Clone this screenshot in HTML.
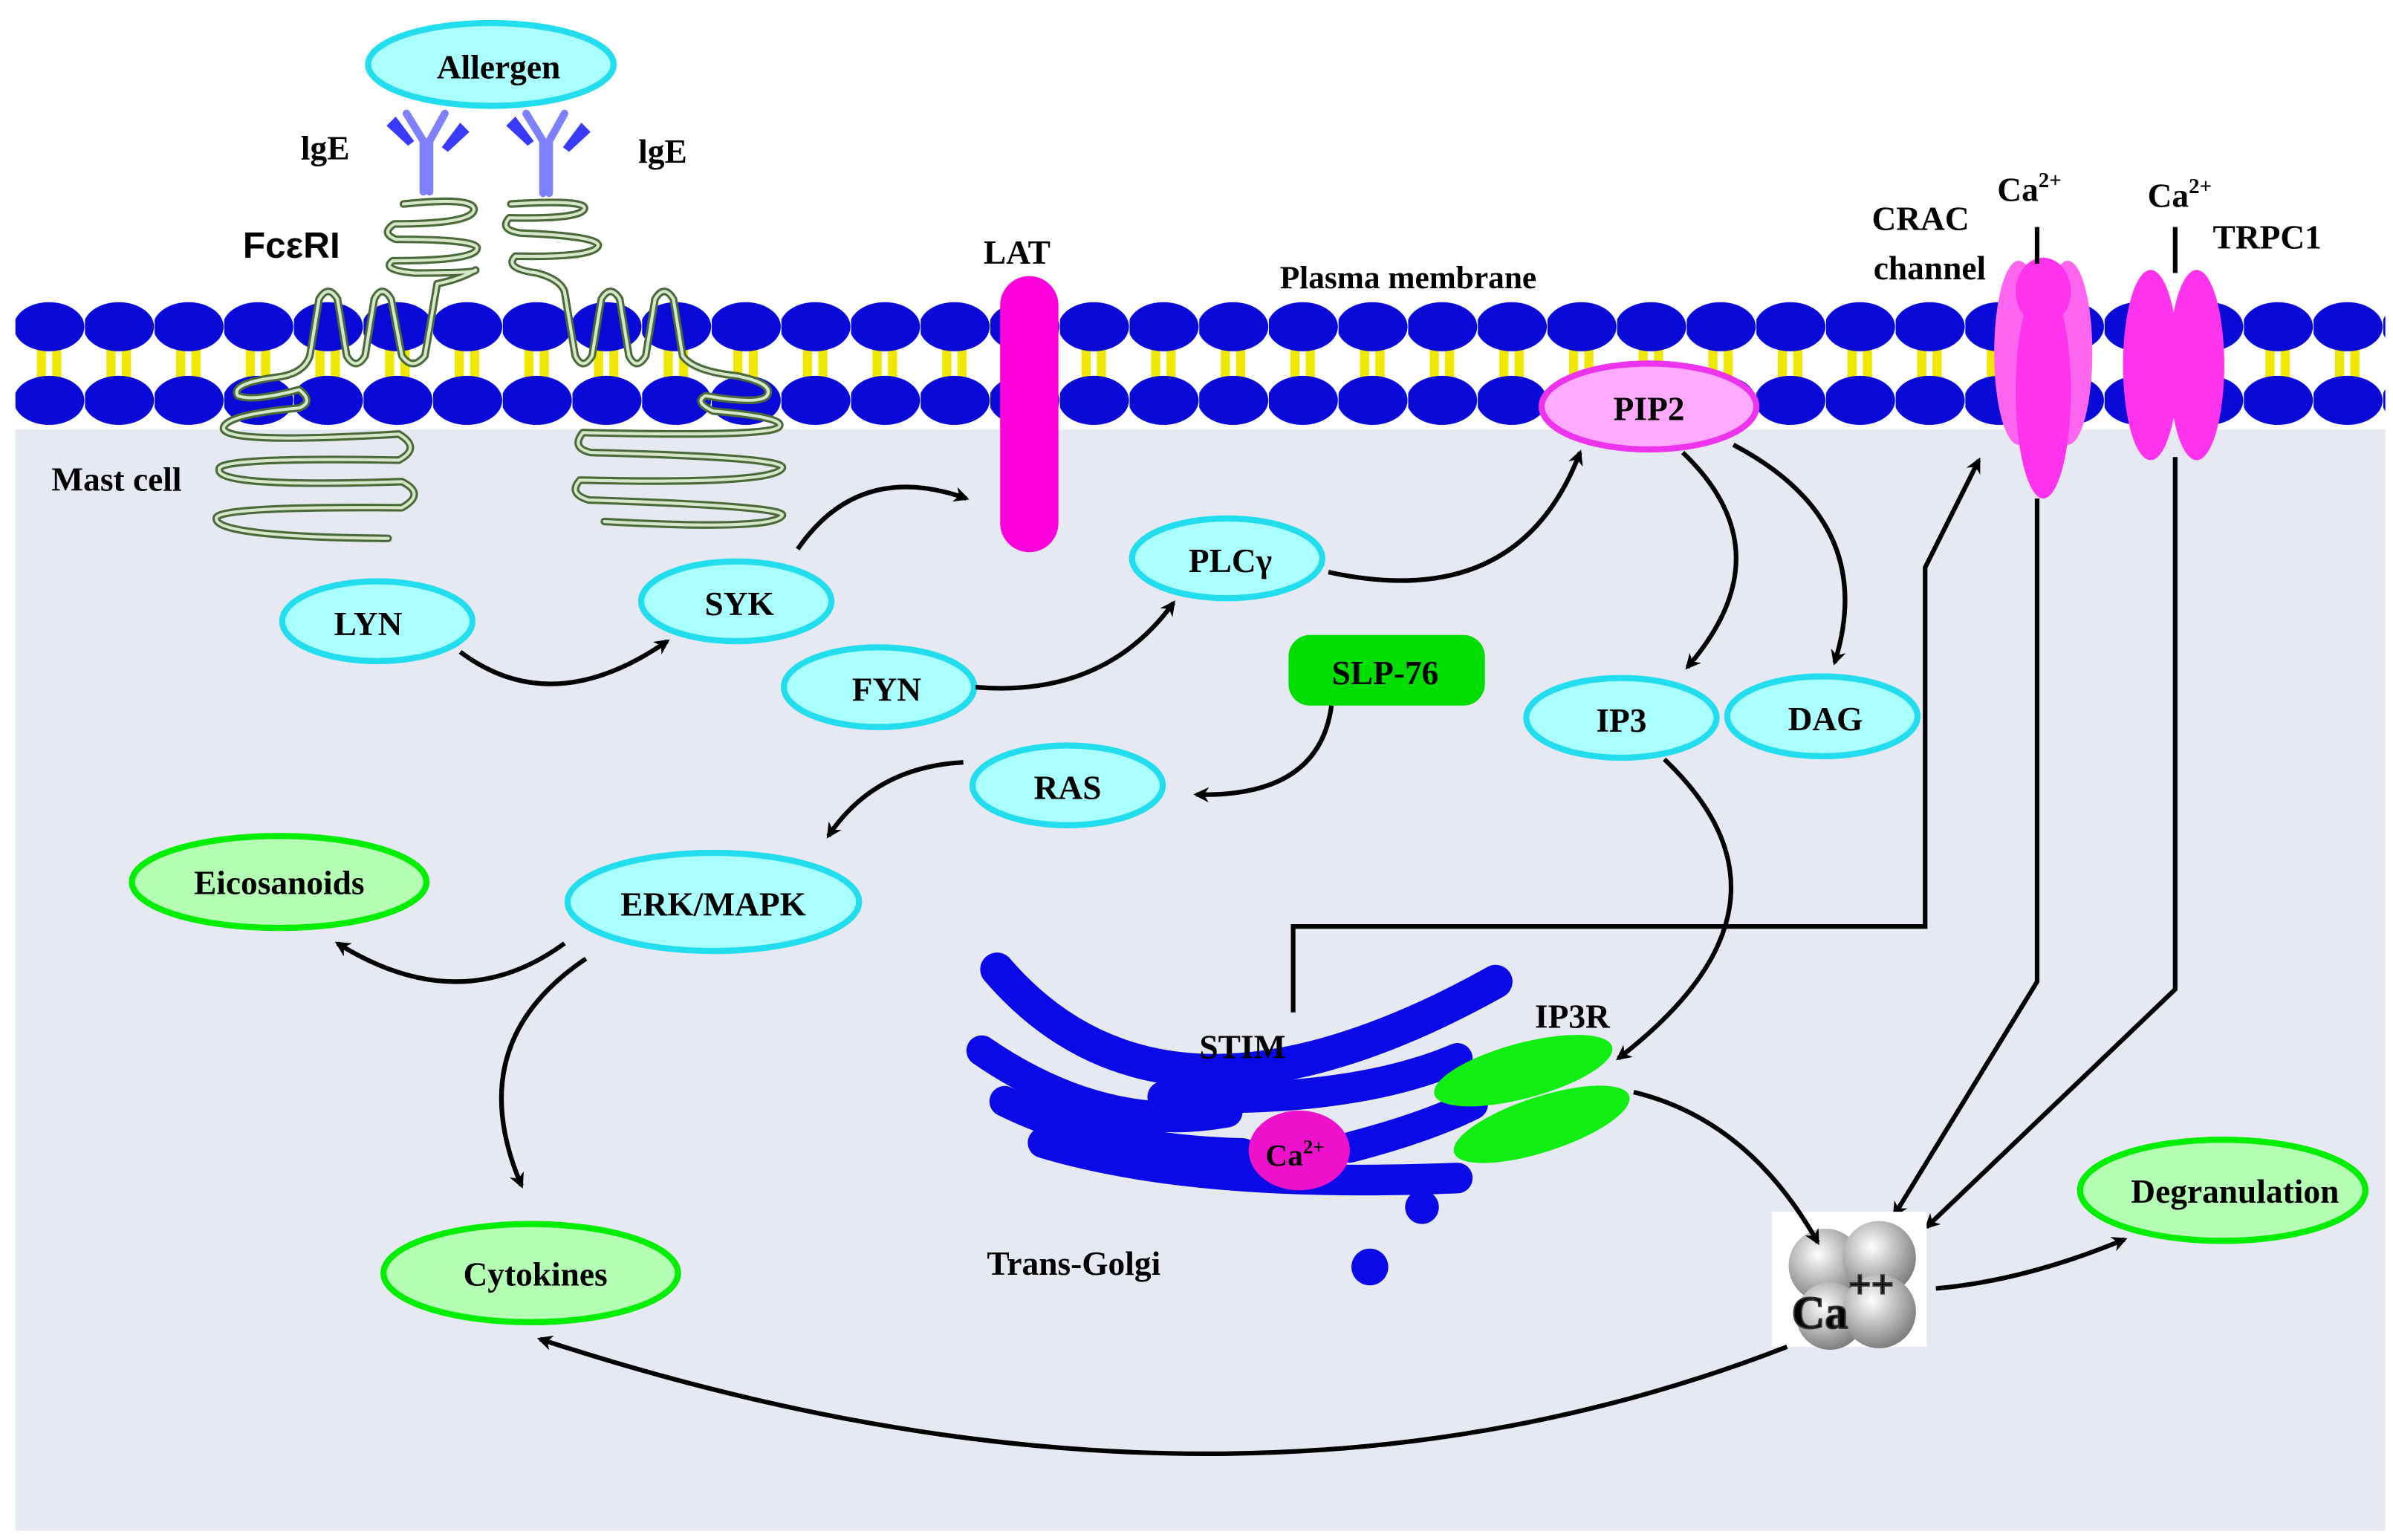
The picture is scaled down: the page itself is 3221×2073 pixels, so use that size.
<!DOCTYPE html>
<html><head><meta charset="utf-8"><style>
html,body{margin:0;padding:0;background:#fff}
svg{display:block}
text{font-family:"Liberation Serif",serif;font-weight:bold;fill:#000}
</style></head><body>
<svg width="3221" height="2073" viewBox="0 0 1560 1004" xmlns="http://www.w3.org/2000/svg">
<defs>
<marker id="ah" markerWidth="10" markerHeight="10" refX="8" refY="5" orient="auto" markerUnits="userSpaceOnUse" viewBox="0 0 10 10">
<path d="M0,0 L10,5 L0,10 L3,5 Z" fill="#000"/></marker>
<radialGradient id="ball" cx="0.4" cy="0.35" r="0.7"><stop offset="0" stop-color="#fff"/><stop offset="1" stop-color="#777"/></radialGradient>
<pattern id="lip" x="10" y="195" width="45.4" height="90" patternUnits="userSpaceOnUse">
<rect x="14" y="25" width="6" height="30" fill="#f0e800"/><rect x="24" y="25" width="6" height="30" fill="#f0e800"/>
<ellipse cx="22" cy="18" rx="23" ry="16" fill="#0a0ad8"/>
<ellipse cx="22" cy="66" rx="23" ry="16" fill="#0a0ad8"/>
</pattern>
</defs>
<rect x="10" y="195" width="1545" height="803" fill="#e6e9f2"/>
<rect x="10" y="195" width="1545" height="85" fill="#fff"/>
<rect x="10" y="195" width="1545" height="85" fill="url(#lip)"/>

<!-- Allergen -->
<ellipse cx="320" cy="42" rx="80" ry="27" fill="#aaffff" stroke="#22ddee" stroke-width="4"/>
<text x="325" y="51" font-size="22" text-anchor="middle">Allergen</text>
<!-- IgE -->
<g stroke="#7f80ff" stroke-width="5" fill="none" stroke-linecap="round">
<path d="M265,74 L276,92 L276,125 M290,74 L280,92 L280,125"/>
<path d="M343,74 L354,92 L354,126 M368,74 L358,92 L358,126"/>
</g>
<g fill="#3a3aff"><path d="M252,82 l6,-6 l12,16 l-4,3 z"/><path d="M306,86 l-6,-6 l-12,16 l4,3 z"/><path d="M330,82 l6,-6 l12,16 l-4,3 z"/><path d="M385,86 l-6,-6 l-12,16 l4,3 z"/></g>
<text x="212" y="104" font-size="22" text-anchor="middle">lgE</text>
<text x="432" y="106" font-size="22" text-anchor="middle">lgE</text>
<text x="190" y="168" font-size="24" text-anchor="middle" style="font-family:'Liberation Sans',sans-serif">FcεRI</text>

<!-- FcERI ribbons -->
<g fill="none" stroke-linecap="round" stroke-linejoin="round">
<g stroke="#4a6a3a" stroke-width="5">
<path id="rl" d="M263,133 Q310,128 309,137 Q307,146 257,146 Q248,152 258,156 Q312,156 311,162 Q310,170 256,170 Q248,176 270,178 Q312,178 310,176 Q300,182 285,185 L277,232 Q269,242 262,232 L255,195 Q249,185 244,195 L238,232 Q232,242 226,232 L220,195 Q214,185 208,195 L202,232 Q198,244 180,246 Q150,250 155,258 Q165,262 195,254 Q205,262 195,266 Q150,270 146,278 Q140,290 260,283 Q275,292 260,300 Q140,298 143,306 Q140,318 262,314 Q278,322 262,331 Q140,330 141,338 Q140,350 253,351"/>
<path id="rr" d="M333,133 Q382,130 381,136 Q379,143 332,142 Q325,150 340,152 Q390,154 390,160 Q388,168 336,167 Q328,175 350,178 Q365,182 368,190 L375,232 Q380,242 386,232 L392,195 Q398,185 404,195 L410,232 Q415,242 421,232 L427,195 Q433,185 439,195 L445,232 Q452,242 480,245 Q505,250 500,258 Q495,264 460,258 Q452,262 465,268 Q512,272 508,278 Q505,285 380,282 Q372,292 385,295 Q512,298 510,305 Q505,316 378,313 Q370,322 384,326 Q512,330 510,336 Q505,346 394,340"/>
</g>
<g stroke="#d6e6c8" stroke-width="2">
<use href="#rl"/><use href="#rr"/>
</g>
</g>

<text x="76" y="320" font-size="22" text-anchor="middle">Mast cell</text>
<!-- LAT -->
<rect x="652" y="180" width="38" height="180" rx="19" fill="#ff00dd"/>
<text x="663" y="172" font-size="22" text-anchor="middle">LAT</text>
<text x="918" y="188" font-size="21" text-anchor="middle">Plasma membrane</text>

<!-- PIP2 -->
<ellipse cx="1075" cy="265" rx="70" ry="28" fill="#ffaaff" stroke="#ee33ee" stroke-width="4"/>
<text x="1075" y="274" font-size="22" text-anchor="middle">PIP2</text>

<!-- CRAC/TRPC -->
<text x="1252" y="150" font-size="22" text-anchor="middle">CRAC</text>
<text x="1258" y="182" font-size="22" text-anchor="middle">channel</text>
<text x="1302" y="131" font-size="22">Ca<tspan font-size="14" dy="-9">2+</tspan></text>
<text x="1400" y="135" font-size="22">Ca<tspan font-size="14" dy="-9">2+</tspan></text>
<text x="1478" y="162" font-size="22" text-anchor="middle">TRPC1</text>
<g fill="#ff33ee">
<ellipse cx="1316" cy="230" rx="16" ry="60" fill="#ff66f0"/>
<ellipse cx="1348" cy="230" rx="16" ry="60" fill="#ff66f0"/>
<ellipse cx="1332" cy="255" rx="18" ry="70"/>
<ellipse cx="1332" cy="190" rx="18" ry="22"/>
<ellipse cx="1402" cy="238" rx="18" ry="62"/>
<ellipse cx="1432" cy="238" rx="18" ry="62"/>
</g>
<g stroke="#000" stroke-width="3" fill="none">
<path d="M1328,148 V172 M1328,325 V640 L1235,792" marker-end="url(#ah)"/>
<path d="M1418,148 V178 M1418,298 V645 L1256,800" marker-end="url(#ah)"/>
<path d="M843,660 V604 H1255 V370 L1290,300" marker-end="url(#ah)"/>
</g>

<!-- nodes -->
<g fill="#aaffff" stroke="#22ddee" stroke-width="4">
<ellipse cx="246" cy="405" rx="62" ry="26"/>
<ellipse cx="480" cy="392" rx="62" ry="26"/>
<ellipse cx="573" cy="448" rx="62" ry="26"/>
<ellipse cx="800" cy="364" rx="62" ry="26"/>
<ellipse cx="696" cy="512" rx="62" ry="26"/>
<ellipse cx="1057" cy="468" rx="62" ry="26"/>
<ellipse cx="1188" cy="467" rx="62" ry="26"/>
<ellipse cx="465" cy="588" rx="95" ry="32"/>
</g>
<g fill="#b5ffb5" stroke="#00ee00" stroke-width="4">
<ellipse cx="182" cy="575" rx="96" ry="30"/>
<ellipse cx="346" cy="830" rx="96" ry="32"/>
<ellipse cx="1449" cy="776" rx="93" ry="33"/>
</g>
<rect x="840" y="414" width="128" height="46" rx="14" fill="#00dd00"/>
<g font-size="22" text-anchor="middle">
<text x="240" y="414">LYN</text>
<text x="482" y="401">SYK</text>
<text x="578" y="457">FYN</text>
<text x="802" y="373">PLCγ</text>
<text x="903" y="446">SLP-76</text>
<text x="696" y="521">RAS</text>
<text x="1057" y="477">IP3</text>
<text x="1190" y="476">DAG</text>
<text x="465" y="597">ERK/MAPK</text>
<text x="182" y="583">Eicosanoids</text>
<text x="349" y="838">Cytokines</text>
<text x="1457" y="784">Degranulation</text>
</g>

<!-- Golgi -->
<g fill="none" stroke="#0a0ae8" stroke-linecap="round">
<path d="M650,632 Q760,760 975,640" stroke-width="22"/>
<path d="M640,685 Q720,740 800,725" stroke-width="20"/>
<path d="M758,715 Q880,720 950,690" stroke-width="20"/>
<path d="M655,718 Q720,750 810,752" stroke-width="20"/>
<path d="M880,748 Q930,735 960,720" stroke-width="20"/>
<path d="M680,745 Q780,775 950,768" stroke-width="20"/>
</g>
<circle cx="927" cy="787" r="11" fill="#0a0ae8"/>
<circle cx="893" cy="826" r="12" fill="#0a0ae8"/>
<ellipse cx="847" cy="750" rx="33" ry="26" fill="#ee11cc"/>
<text x="825" y="760" font-size="20">Ca<tspan font-size="13" dy="-8">2+</tspan></text>
<g fill="#11ee11"><ellipse cx="993" cy="698" rx="60" ry="18" transform="rotate(-15 993 698)"/><ellipse cx="1005" cy="733" rx="60" ry="18" transform="rotate(-18 1005 733)"/></g>
<text x="810" y="690" font-size="22" text-anchor="middle">STIM</text>
<text x="1025" y="670" font-size="22" text-anchor="middle">IP3R</text>
<text x="700" y="831" font-size="22" text-anchor="middle">Trans-Golgi</text>

<!-- Ca box -->
<rect x="1155" y="790" width="101" height="88" fill="#fff"/>
<circle cx="1190" cy="825" r="24" fill="url(#ball)"/><circle cx="1225" cy="820" r="24" fill="url(#ball)"/>
<circle cx="1193" cy="858" r="22" fill="url(#ball)"/><circle cx="1225" cy="855" r="24" fill="url(#ball)"/>
<text x="1168" y="866" font-size="30" fill="#eee" stroke="#333" stroke-width="1">Ca</text>
<text x="1205" y="846" font-size="26" fill="#eee" stroke="#333" stroke-width="1">++</text>

<!-- arrows -->
<g stroke="#000" stroke-width="3" fill="none" marker-end="url(#ah)">
<path d="M300,425 Q360,470 435,418"/>
<path d="M520,358 Q560,300 630,325"/>
<path d="M636,448 Q720,455 765,393"/>
<path d="M866,373 Q990,400 1030,295"/>
<path d="M1097,295 Q1165,360 1100,435"/>
<path d="M1130,290 Q1225,340 1196,432"/>
<path d="M868,460 Q860,520 780,518"/>
<path d="M628,497 Q570,500 540,545"/>
<path d="M368,615 Q300,665 220,615"/>
<path d="M382,625 Q300,680 340,773"/>
<path d="M1085,495 Q1185,590 1055,690"/>
<path d="M1065,712 Q1140,730 1185,810"/>
<path d="M1262,840 Q1320,835 1385,808"/>
<path d="M1165,878 Q800,1020 352,873"/>
</g>
</svg>
</body></html>
